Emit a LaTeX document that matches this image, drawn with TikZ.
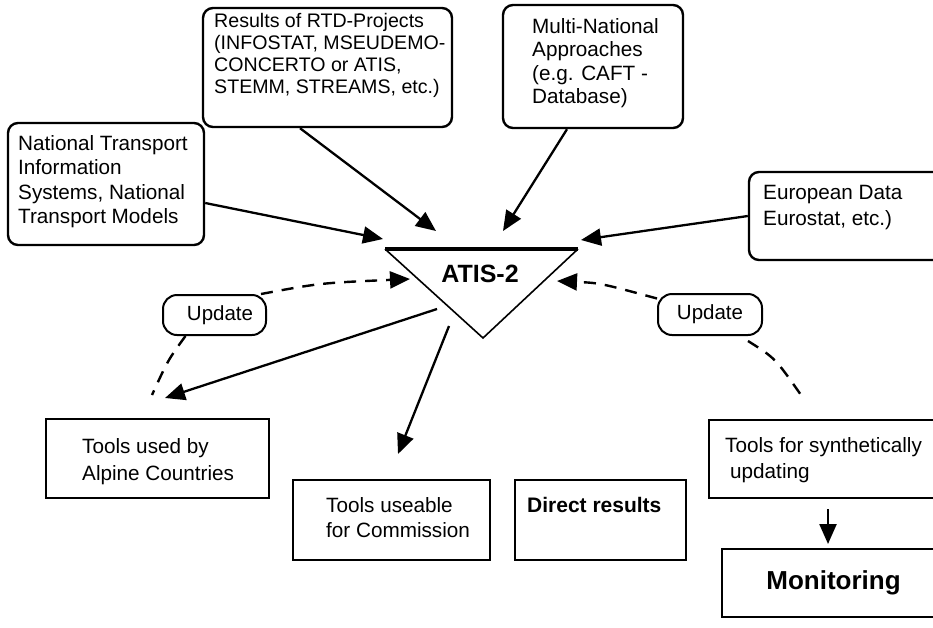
\documentclass[tikz,border=0pt]{standalone}
\usepackage{fontspec}
\setmainfont{Liberation Sans}
\usetikzlibrary{arrows.meta}
\begin{document}
\begin{tikzpicture}[x=1pt,y=-1pt,
  rbox/.style={draw, line width=2.4pt, rounded corners=10pt, inner sep=0pt},
  sbox/.style={draw, line width=2pt, inner sep=0pt},
  pill/.style={draw, line width=2pt, rounded corners=14pt, inner sep=0pt, font=\fontsize{20.5}{24}\selectfont},
  txt/.style={anchor=north west, inner sep=0pt, align=left},
  tip/.style={-{Triangle[length=20pt,width=17pt]}},
  arr/.style={line width=2.3pt, tip},
  dsh/.style={line width=2.4pt, dash pattern=on 12pt off 9pt},
]
\useasboundingbox (0,0) rectangle (933,627);
\clip (0,0) rectangle (933,627);
\fill[white] (0,0) rectangle (933,627);

% boxes
\node[rbox, minimum width=196pt, minimum height=122pt] (nat) at (106,184) {};
\node[rbox, minimum width=249pt, minimum height=119pt] (rtd) at (327.5,67.5) {};
\node[rbox, minimum width=180pt, minimum height=123pt] (mul) at (593,66.5) {};
\node[rbox, minimum width=196pt, minimum height=88pt] (eur) at (847,216) {};
\node[pill, minimum width=103pt, minimum height=40pt] (upd1) at (214.5,315) {\hspace*{11pt}Update};
\node[pill, minimum width=104pt, minimum height=41pt] (upd2) at (710,314.5) {Update};
\node[sbox, minimum width=223pt, minimum height=79pt] (alp) at (157.5,458.5) {};
\node[sbox, minimum width=197pt, minimum height=80pt] (use) at (391.5,520) {};
\node[sbox, minimum width=171pt, minimum height=80pt] (dir) at (600.5,520) {};
\node[sbox, minimum width=236pt, minimum height=78pt] (syn) at (827,459) {};
\node[sbox, minimum width=223pt, minimum height=68pt, font=\bfseries\fontsize{26}{30}\selectfont] (mon) at (833.5,583) {Monitoring};

% texts
\node[txt, font=\fontsize{20.7}{24.5}\selectfont] (natT) at (18,135) {National Transport\\Information\\Systems, National\\Transport Models};
\node[txt, font=\fontsize{19.6}{22}\selectfont] (rtdT) at (214,13) {Results of RTD-Projects\\(INFOSTAT, MSEUDEMO-\\CONCERTO or ATIS,\\STEMM, STREAMS, etc.)};
\node[txt, font=\fontsize{20.7}{23.5}\selectfont] (mulT) at (532,18) {Multi-National\\Approaches\\(e.g. CAFT -\\Database)};
\node[txt, font=\fontsize{20.7}{26}\selectfont] (eurT) at (763,185) {European Data\\Eurostat, etc.)};
\node[txt, font=\fontsize{20.7}{27}\selectfont] (alpT) at (82,438) {Tools used by\\Alpine Countries};
\node[txt, font=\fontsize{20.7}{25}\selectfont] (useT) at (326,497) {Tools useable\\for Commission};
\node[txt, font=\bfseries\fontsize{21}{25}\selectfont] (dirT) at (527,497) {Direct results};
\node[txt, font=\fontsize{20.7}{26}\selectfont] (synT) at (725,437) {Tools for synthetically\\\hspace*{5pt}updating};

% triangle
\coordinate (tl) at (385,249);
\coordinate (tr) at (578,249);
\coordinate (tb) at (483,338);
\draw[line width=1.6pt, line join=miter] (tl) -- (tb) -- (tr);
\draw[line width=3.3pt] (tl) -- (tr);
\node[font=\bfseries\fontsize{25}{30}\selectfont, inner sep=0pt] (atis) at (480,274) {ATIS-2};

% free ends
\coordinate (tNat) at (383,239);
\coordinate (tRtd) at (436,231);
\coordinate (tMul) at (503,231);
\coordinate (tEur) at (581,240);
\coordinate (tUpL) at (410,279);
\coordinate (tUpR) at (557,281);
\coordinate (sAlp) at (437,309);
\coordinate (tAlp) at (165,398);
\coordinate (sUse) at (449,326);
\coordinate (tUse) at (398,454);
\coordinate (eUpL) at (152,395);
\coordinate (eUpR) at (801,395);

% arrows
\draw[arr] ([yshift=-19pt]nat.east) -- (tNat);
\draw[arr] ([xshift=-27.5pt]rtd.south) -- (tRtd);
\draw[arr] ([xshift=-26pt]mul.south) -- (tMul);
\draw[arr] (eur.west) -- (tEur);
\draw[arr] (sAlp) -- (tAlp);
\draw[arr] (sUse) -- (tUse);
\draw[arr] ([xshift=1pt,yshift=-10pt]syn.south) -- ([xshift=-5.5pt,yshift=4pt]mon.north);

% dashed update links
\draw[dsh, tip] ([xshift=-6pt]upd1.north east) .. controls (320,283) .. (tUpL);
\draw[dsh] ([xshift=-29pt]upd1.south) .. controls (168,360) .. (eUpL);
\draw[dsh, tip] ([yshift=16pt]upd2.west) .. controls (600,283) .. (tUpR);
\draw[dsh] ([xshift=-15pt,yshift=-5pt]upd2.south east) .. controls (775,358) .. (eUpR);
\end{tikzpicture}
\end{document}
